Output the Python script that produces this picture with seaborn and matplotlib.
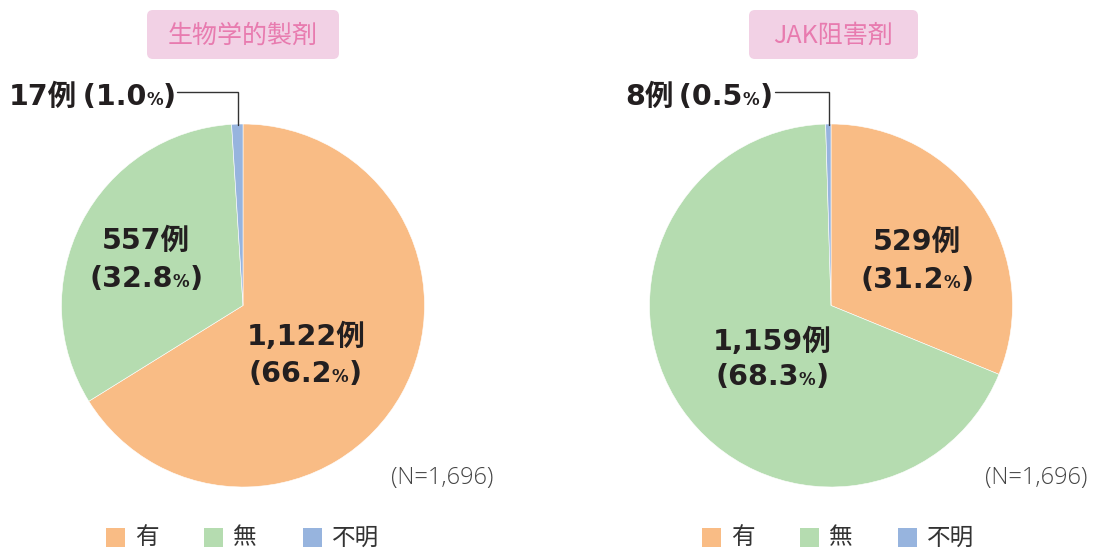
import matplotlib
matplotlib.use("Agg")
import matplotlib.pyplot as plt
import seaborn as sns
from matplotlib.patches import FancyBboxPatch, Rectangle
from matplotlib.offsetbox import TextArea, HPacker, AnnotationBbox

# ---- data ----
categories = ["有", "無", "不明"]
bio_counts = [1122, 557, 17]
bio_pcts = [66.2, 32.8, 1.0]
jak_counts = [529, 1159, 8]
jak_pcts = [31.2, 68.3, 0.5]
panel_titles = ["生物学的製剤", "JAK阻害剤"]
n_total = 1696

sns.set_theme(style="white")
FAM = ["DejaVu Sans", "Noto Sans CJK JP"]
plt.rcParams["font.family"] = FAM

colors = ["#F9BC85", "#B5DCB0", "#97B4DE"]
TXT = "#231F20"
W, H = 1098, 549
fig = plt.figure(figsize=(W / 100, H / 100), dpi=100)
fig.patch.set_facecolor("white")

R = 181.5
centers = [(243, 305.5), (831, 305.5)]
datasets = [(bio_counts, bio_pcts), (jak_counts, jak_pcts)]

for (cx, cy), (counts, pcts) in zip(centers, datasets):
    ax = fig.add_axes([(cx - R) / W, (H - cy - R) / H, 2 * R / W, 2 * R / H])
    ax.pie(counts, colors=colors, startangle=90, counterclock=False,
           radius=1.0, wedgeprops=dict(edgecolor="white", linewidth=0.4))
    ax.set_xlim(-1, 1)
    ax.set_ylim(-1, 1)
    ax.set_axis_off()

# overlay axes in pixel coordinates (y down)
ov = fig.add_axes([0, 0, 1, 1], zorder=10)
ov.set_xlim(0, W)
ov.set_ylim(H, 0)
ov.set_axis_off()
ov.patch.set_alpha(0)


def rich(x, y, parts, ha=0.5):
    boxes = [TextArea(t, textprops=dict(fontsize=s, fontweight="bold", color=TXT,
                                         family=FAM))
             for t, s in parts]
    pk = HPacker(children=boxes, align="baseline", pad=0, sep=0)
    ab = AnnotationBbox(pk, (x, y), xycoords="data", frameon=False,
                        box_alignment=(ha, 0.5), pad=0)
    ov.add_artist(ab)


BIG, PCT = 20.5, 12


def pct_parts(p, lead=""):
    return [(f"{lead}({p:.1f}", BIG), ("%", PCT), (")", BIG)]


# titles
title_boxes = [(147, 339), (749, 918)]
for (x0, x1), t in zip(title_boxes, panel_titles):
    ov.add_patch(FancyBboxPatch((x0 + 6, 10 + 6), x1 - x0 - 12, 49 - 12,
                                boxstyle="round,pad=6", fc="#F2D1E5", ec="none"))
    ov.text((x0 + x1) / 2, 36, t, ha="center", va="center", fontsize=18,
            color="#E87BAF", family=["Noto Sans CJK JP", "DejaVu Sans"])

# inner labels
inner_pos = [
    [(306, 337, 305, 374), (146, 241, 146, 279)],
    [(917, 242, 917, 280), (772, 342, 772, 377)],
]
for (counts, pcts), pos in zip(datasets, inner_pos):
    for i in range(2):
        x1, y1, x2, y2 = pos[i]
        rich(x1, y1, [(f"{counts[i]:,}例", BIG)])
        rich(x2, y2, pct_parts(pcts[i]))

# outer labels for 不明 with leader lines
outer = [(9, 97, 177, 238), (625, 97, 775, 829)]
for (counts, pcts), (tx, ty, lx0, lx1) in zip(datasets, outer):
    rich(tx, ty, [(f"{counts[2]}例", BIG)] + pct_parts(pcts[2], lead="\u2009"), ha=0)
    ov.plot([lx0, lx1, lx1], [91.5, 91.5, 125], color="#333333", lw=1.0,
            solid_joinstyle="miter")

# N labels
for x in (442, 1036):
    ov.text(x, 478, f"(N={n_total:,})", ha="center", va="center",
            fontsize=17, color="#444444", fontweight="light",
            family=["Open Sans", "DejaVu Sans"])

# legends
leg_x = [(106, 204, 303), (702, 800, 898)]
for xs in leg_x:
    for x, c, lab in zip(xs, colors, categories):
        ov.add_patch(Rectangle((x, 528), 19, 19, fc=c, ec="none"))
        ov.text(x + 29, 538, lab, ha="left", va="center", fontsize=17,
                color="#333333", family=["Noto Sans CJK JP", "DejaVu Sans"])

fig.savefig("out.png", dpi=100, facecolor="white")
